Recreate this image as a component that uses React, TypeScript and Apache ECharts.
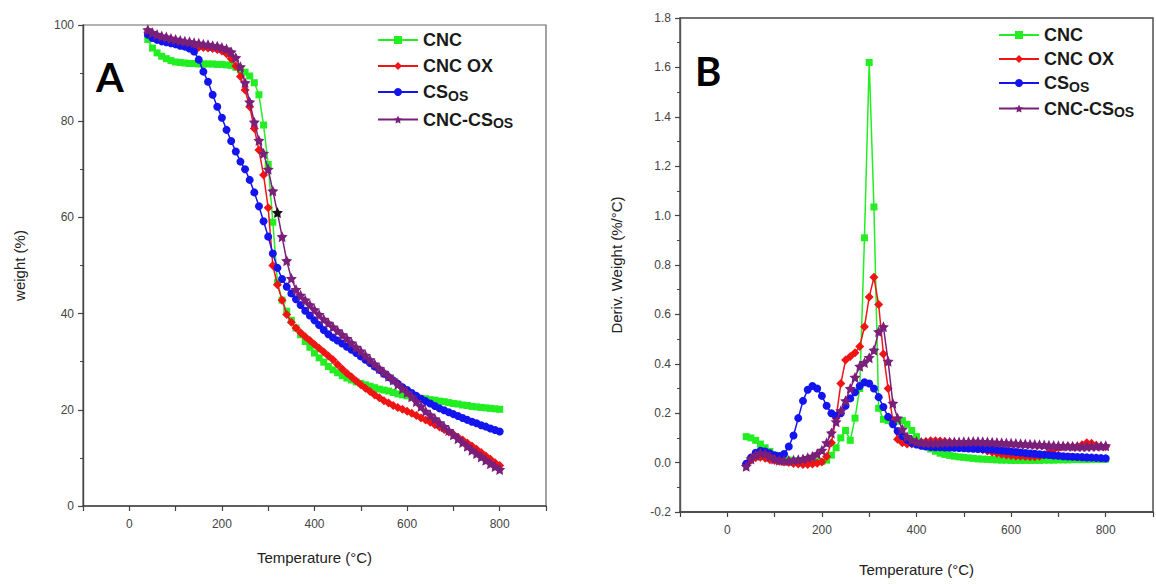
import React, { useEffect, useRef } from "react";
import * as echarts from "echarts";

// Temperature (°C) sampling of every curve
const temps = [
  40, 50, 60, 70, 80, 90, 100, 110, 120, 130,
  140, 150, 160, 170, 180, 190, 200, 210, 220, 230,
  240, 250, 260, 270, 280, 290, 300, 310, 320, 330,
  340, 350, 360, 370, 380, 390, 400, 410, 420, 430,
  440, 450, 460, 470, 480, 490, 500, 510, 520, 530,
  540, 550, 560, 570, 580, 590, 600, 610, 620, 630,
  640, 650, 660, 670, 680, 690, 700, 710, 720, 730,
  740, 750, 760, 770, 780, 790, 800,
];

const seriesNames = ["CNC", "CNC OX", "CSos", "CNC-CSos"];

// Panel A: weight (%)
const cncWeight = [
  97.0, 95.2, 94.2, 93.5, 93.0, 92.6, 92.3, 92.2, 92.1, 92.0,
  92.0, 91.9, 91.9, 91.9, 91.9, 91.8, 91.8, 91.7, 91.6, 91.2,
  90.7, 90.2, 89.4, 88.0, 85.5, 79.2, 71.0, 59.0, 46.5, 42.8,
  40.5, 38.6, 37.0, 35.6, 34.2, 33.0, 31.8, 30.8, 29.9, 29.0,
  28.3, 27.7, 27.1, 26.6, 26.2, 25.8, 25.5, 25.2, 24.9, 24.6,
  24.3, 24.1, 23.9, 23.6, 23.3, 23.1, 22.9, 22.7, 22.5, 22.4,
  22.3, 22.1, 22.0, 21.8, 21.7, 21.5, 21.3, 21.2, 21.0, 20.9,
  20.7, 20.6, 20.5, 20.4, 20.3, 20.2, 20.1,
];
const cncOxWeight = [
  98.5, 97.8, 97.3, 96.9, 96.6, 96.3, 96.1, 95.9, 95.7, 95.6,
  95.5, 95.4, 95.3, 95.2, 95.1, 94.9, 94.6, 94.0, 93.0, 91.5,
  89.3, 86.5, 83.0, 78.5, 74.0, 68.8, 62.0, 50.0, 46.0, 42.8,
  39.8, 38.2, 37.0, 36.0, 35.2, 34.4, 33.6, 32.8, 32.0, 31.2,
  30.4, 29.4, 28.5, 27.6, 26.8, 26.0, 25.2, 24.5, 23.8, 23.1,
  22.5, 21.9, 21.4, 20.9, 20.5, 20.1, 19.7, 19.3, 18.8, 18.3,
  17.9, 17.4, 16.9, 16.4, 15.9, 15.4, 14.9, 14.3, 13.7, 13.1,
  12.5, 11.8, 11.1, 10.4, 9.7, 9.0, 8.4,
];
const csOsWeight = [
  98.0, 97.3, 96.9, 96.6, 96.4, 96.2, 96.0, 95.7, 95.5, 95.1,
  94.5, 92.8, 90.3, 88.2, 85.5, 83.0, 80.7, 78.2, 75.9, 73.7,
  71.6, 70.0, 67.8, 65.2, 62.3, 59.2, 56.0, 52.5, 49.5, 47.2,
  45.6, 44.2, 43.0, 41.8, 40.6, 39.6, 38.6, 37.6, 36.6, 35.7,
  35.0, 34.4, 33.8, 33.1, 32.5, 31.8, 31.1, 30.4, 29.7, 29.0,
  28.3, 27.5, 26.8, 26.1, 25.4, 24.7, 24.1, 23.5, 22.9, 22.3,
  21.8, 21.3, 20.8, 20.3, 19.9, 19.5, 19.1, 18.7, 18.3, 17.9,
  17.5, 17.2, 16.8, 16.5, 16.1, 15.8, 15.5,
];
const cncCsOsWeight = [
  99.0, 98.4, 98.0, 97.7, 97.5, 97.2, 97.0, 96.8, 96.6, 96.5,
  96.3, 96.2, 96.0, 95.9, 95.7, 95.6, 95.3, 95.0, 94.4, 93.2,
  91.3, 88.0, 84.0, 79.8, 76.0, 73.3, 70.0, 65.5, 61.0, 56.0,
  51.0, 47.3, 45.0, 43.8, 42.8, 41.8, 40.8, 39.8, 38.8, 38.0,
  37.2, 36.4, 35.6, 34.8, 33.9, 33.0, 32.2, 31.3, 30.4, 29.5,
  28.6, 27.8, 27.0, 26.2, 25.3, 24.4, 23.6, 22.7, 21.7, 20.7,
  19.7, 18.9, 18.1, 17.3, 16.5, 15.7, 14.8, 14.0, 13.2, 12.4,
  11.6, 10.9, 10.2, 9.5, 8.8, 8.2, 7.6,
];

// Panel B: derivative weight (%/°C)
const cncDeriv = [
  0.105, 0.1, 0.09, 0.075, 0.06, 0.045, 0.03, 0.02, 0.013, 0.01,
  0.008, 0.006, 0.005, 0.004, 0.004, 0.004, 0.005, 0.01, 0.03, 0.06,
  0.1, 0.13, 0.09, 0.18, 0.3, 0.91, 1.62, 1.035, 0.22, 0.175,
  0.17, 0.168, 0.168, 0.17, 0.155, 0.13, 0.105, 0.082, 0.066, 0.055,
  0.046, 0.038, 0.033, 0.029, 0.026, 0.023, 0.021, 0.019, 0.017, 0.015,
  0.014, 0.013, 0.012, 0.011, 0.01, 0.01, 0.009, 0.009, 0.009, 0.009,
  0.009, 0.009, 0.009, 0.01, 0.01, 0.01, 0.011, 0.011, 0.011, 0.012,
  0.012, 0.012, 0.012, 0.013, 0.013, 0.013, 0.014,
];
const cncOxDeriv = [
  -0.005, 0.01, 0.02, 0.022, 0.018, 0.012, 0.008, 0.005, 0.002, 0.0,
  -0.004, -0.006, -0.008, -0.008, -0.006, -0.003, 0.002, 0.025, 0.08, 0.18,
  0.32, 0.415, 0.43, 0.445, 0.47, 0.55, 0.67, 0.75, 0.64, 0.44,
  0.3, 0.17, 0.095, 0.08, 0.075, 0.075, 0.078, 0.082, 0.085, 0.088,
  0.088, 0.087, 0.085, 0.083, 0.08, 0.077, 0.072, 0.067, 0.062, 0.057,
  0.052, 0.047, 0.042, 0.038, 0.034, 0.031, 0.029, 0.027, 0.026, 0.025,
  0.024, 0.024, 0.026, 0.032, 0.042, 0.052, 0.06, 0.064, 0.066, 0.064,
  0.066, 0.072, 0.08, 0.078, 0.07, 0.066, 0.064,
];
const csOsDeriv = [
  -0.005, 0.02, 0.04, 0.048, 0.045, 0.038, 0.03, 0.027, 0.035, 0.065,
  0.11, 0.18, 0.25, 0.295, 0.31, 0.3, 0.27, 0.23, 0.2, 0.19,
  0.2, 0.23, 0.26, 0.285, 0.31, 0.325, 0.32, 0.3, 0.265, 0.225,
  0.185, 0.155, 0.128, 0.108, 0.092, 0.08, 0.073, 0.068, 0.065, 0.063,
  0.062, 0.062, 0.061, 0.06, 0.06, 0.059, 0.058, 0.057, 0.056, 0.055,
  0.055, 0.054, 0.053, 0.051, 0.049, 0.047, 0.045, 0.043, 0.041, 0.039,
  0.037, 0.036, 0.034, 0.032, 0.031, 0.029, 0.028, 0.026, 0.025, 0.024,
  0.023, 0.022, 0.021, 0.02, 0.019, 0.018, 0.017,
];
const cncCsOsDeriv = [
  -0.015, 0.015, 0.03, 0.038, 0.035, 0.025, 0.015, 0.01, 0.008, 0.008,
  0.01, 0.012, 0.015, 0.02, 0.025, 0.035, 0.05, 0.08, 0.12, 0.165,
  0.21, 0.25, 0.3, 0.345, 0.39, 0.405, 0.425, 0.455, 0.53, 0.55,
  0.41, 0.24, 0.18, 0.135, 0.105, 0.092, 0.085, 0.082, 0.08, 0.08,
  0.08, 0.081, 0.082, 0.082, 0.083, 0.083, 0.084, 0.084, 0.085, 0.085,
  0.084, 0.083, 0.082, 0.081, 0.08, 0.079, 0.078, 0.077, 0.076, 0.075,
  0.074, 0.073, 0.072, 0.071, 0.07, 0.069, 0.068, 0.067, 0.066, 0.066,
  0.065, 0.065, 0.065, 0.066, 0.066, 0.067, 0.068,
];

const xTickLabels = [0, 200, 400, 600, 800];

const COLORS = ["#22ee22", "#f01414", "#1414ee", "#7a1f7a"];
const STAR =
  "path://M0,-10L2.9,-4L9.5,-3.1L4.8,1.5L5.9,8.1L0,5L-5.9,8.1L-4.8,1.5L-9.5,-3.1L-2.9,-4Z";
const SYMBOLS = ["rect", "diamond", "circle", STAR];
const SIZES = [7, 9, 8, 11];

const NARROW = "'Liberation Sans Narrow', 'Arial Narrow', 'Liberation Sans', Arial, sans-serif";
const BOLD = "'Liberation Sans', Arial, sans-serif";

function legendFormatter(name: string) {
  if (name === "CSos") return "{m|CS}{s|OS}";
  if (name === "CNC-CSos") return "{m|CNC-CS}{s|OS}";
  return "{m|" + name + "}";
}

function makeLegend(left: number, top: number, gap: number) {
  return {
    data: seriesNames,
    orient: "vertical",
    left,
    top,
    padding: 0,
    itemWidth: 40,
    itemHeight: 10,
    itemGap: gap,
    selectedMode: false,
    formatter: legendFormatter,
    textStyle: {
      color: "#1a1a1a",
      fontFamily: BOLD,
      fontWeight: "bold",
      fontSize: 18,
      rich: {
        m: { fontSize: 18, fontWeight: "bold", fontFamily: BOLD, color: "#1a1a1a", lineHeight: 21 },
        s: {
          fontSize: 14,
          fontWeight: "bold",
          fontFamily: BOLD,
          color: "#1a1a1a",
          lineHeight: 10,
          verticalAlign: "bottom",
        },
      },
    },
  };
}

function xAxis(gridIndex: number, nameGap: number) {
  return {
    type: "value",
    gridIndex,
    min: -100,
    max: 900,
    interval: 100,
    name: "Temperature (°C)",
    nameLocation: "middle",
    nameGap,
    nameTextStyle: { fontFamily: NARROW, fontSize: 15, color: "#222" },
    axisLine: { show: true, onZero: false, lineStyle: { color: "#444", width: 1.6 } },
    axisTick: { show: true, length: 5, lineStyle: { color: "#444", width: 1.2 } },
    axisLabel: {
      fontFamily: NARROW,
      fontSize: 12,
      color: "#444",
      margin: 12,
      formatter: (v: number) => (xTickLabels.indexOf(v) >= 0 ? String(v) : ""),
    },
    splitLine: { show: false },
  };
}

export default function App() {
  const ref = useRef<HTMLDivElement>(null);

  useEffect(() => {
    if (!ref.current) return;
    const chart = echarts.init(ref.current, undefined, { renderer: "svg" });

    const weightSets = [cncWeight, cncOxWeight, csOsWeight, cncCsOsWeight];
    const derivSets = [cncDeriv, cncOxDeriv, csOsDeriv, cncCsOsDeriv];

    const series: any[] = [];
    weightSets.forEach((vals, k) => {
      series.push({
        type: "line",
        name: seriesNames[k],
        xAxisIndex: 0,
        yAxisIndex: 0,
        data: temps.map((t, i) =>
          k === 3 && t === 320
            ? { value: [t, vals[i]], itemStyle: { color: "#111" } }
            : [t, vals[i]]
        ),
        symbol: SYMBOLS[k],
        symbolSize: SIZES[k],
        showAllSymbol: true,
        lineStyle: { color: COLORS[k], width: 1.5 },
        itemStyle: { color: COLORS[k] },
        z: 2 + k,
      });
    });
    derivSets.forEach((vals, k) => {
      series.push({
        type: "line",
        name: seriesNames[k],
        xAxisIndex: 1,
        yAxisIndex: 1,
        data: temps.map((t, i) => [t, vals[i]]),
        symbol: SYMBOLS[k],
        symbolSize: SIZES[k],
        showAllSymbol: true,
        lineStyle: { color: COLORS[k], width: 1.5 },
        itemStyle: { color: COLORS[k] },
        z: 2 + k,
      });
    });

    const option: any = {
      animation: false,
      backgroundColor: "#ffffff",
      grid: [
        { left: 83, top: 25, width: 463, height: 481, show: true, borderColor: "#666", borderWidth: 1.2 },
        { left: 680, top: 18, width: 488, height: 494, show: true, borderColor: "#444", borderWidth: 1.4 },
      ],
      xAxis: [xAxis(0, 44), xAxis(1, 50)],
      yAxis: [
        {
          type: "value",
          gridIndex: 0,
          min: 0,
          max: 100,
          interval: 20,
          name: "weight (%)",
          nameLocation: "middle",
          nameGap: 56,
          nameTextStyle: { fontFamily: NARROW, fontSize: 15, color: "#222" },
          axisLine: { show: true, onZero: false, lineStyle: { color: "#444", width: 1.4 } },
          axisTick: { show: true, length: 5, lineStyle: { color: "#444", width: 1.2 } },
          minorTick: { show: true, splitNumber: 2, length: 3, lineStyle: { color: "#444", width: 1 } },
          axisLabel: { fontFamily: NARROW, fontSize: 12, color: "#444", margin: 9, showMinLabel: true, showMaxLabel: true },
          splitLine: { show: false },
        },
        {
          type: "value",
          gridIndex: 1,
          min: -0.2,
          max: 1.8,
          interval: 0.2,
          name: "Deriv. Weight (%/°C)",
          nameLocation: "middle",
          nameGap: 56,
          nameTextStyle: { fontFamily: NARROW, fontSize: 15, color: "#222" },
          axisLine: { show: true, onZero: false, lineStyle: { color: "#555", width: 1.4 } },
          axisTick: { show: true, length: 5, lineStyle: { color: "#444", width: 1.2 } },
          minorTick: { show: true, splitNumber: 2, length: 3, lineStyle: { color: "#444", width: 1 } },
          axisLabel: {
            fontFamily: NARROW,
            fontSize: 12,
            color: "#444",
            margin: 9,
            showMinLabel: true,
            showMaxLabel: true,
            formatter: (v: number) => v.toFixed(1),
          },
          splitLine: { show: false },
        },
      ],
      legend: [makeLegend(377, 31, 8), makeLegend(998, 26, 6)],
      graphic: [
        {
          type: "text",
          left: 96,
          top: 57,
          style: { text: "A", fontFamily: "Lato, 'Open Sans', sans-serif", fontWeight: "bold", fontSize: 40, fill: "#000" },
        },
        {
          type: "text",
          left: 695,
          top: 51,
          style: { text: "B", fontFamily: "Lato, 'Open Sans', sans-serif", fontWeight: "bold", fontSize: 40, fill: "#000" },
        },
      ],
      series,
    };

    chart.setOption(option);
    return () => chart.dispose();
  }, []);

  return (
    <div
      ref={ref}
      style={{ position: "absolute", left: 0, top: 0, width: 1156, height: 584, overflow: "hidden" }}
    />
  );
}
